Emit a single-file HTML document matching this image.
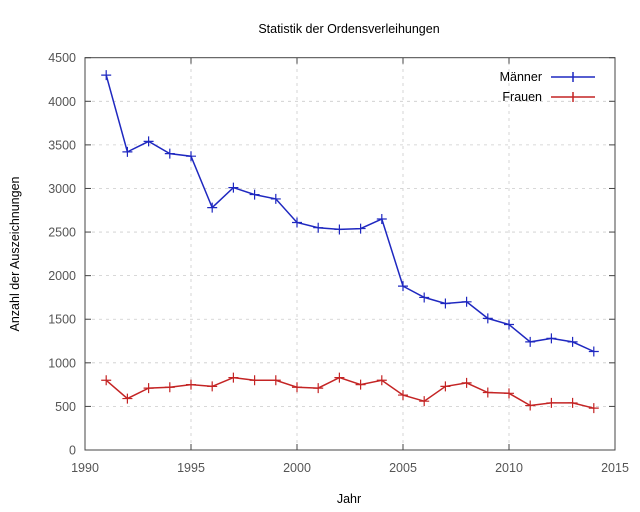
<!DOCTYPE html>
<html><head><meta charset="utf-8"><style>
body{margin:0;background:#fff;}
svg{display:block;font-family:"Liberation Sans",sans-serif;}
</style></head><body>
<svg id="s" width="640" height="512" xmlns="http://www.w3.org/2000/svg"></svg>
<script>
const X0=85,X1=615,Y0=450,Y1=57.7;
const xs=y=>X0+(y-1990)*(X1-X0)/25, ys=v=>Y0-v*(Y0-Y1)/4500;
let h='';
h+='<text x="349" y="33" font-size="12.5" text-anchor="middle" fill="#000">Statistik der Ordensverleihungen</text>';
for(let v=0;v<=4500;v+=500){const y=ys(v);
 if(v>0&&v<4500)h+=`<line x1="${X0}" x2="${X1}" y1="${y}" y2="${y}" stroke="#ccc" stroke-dasharray="3,4" stroke-width="0.8"/>`;
 h+=`<line x1="${X0}" x2="${X0+6}" y1="${y}" y2="${y}" stroke="#444"/><line x1="${X1}" x2="${X1-6}" y1="${y}" y2="${y}" stroke="#444"/>`;
 h+=`<text x="${X0-9}" y="${y+4.5}" font-size="12.5" text-anchor="end" fill="#555">${v}</text>`;}
for(let yr=1990;yr<=2015;yr+=5){const x=xs(yr);
 if(yr>1990&&yr<2015)h+=`<line x1="${x}" x2="${x}" y1="${Y0}" y2="${Y1}" stroke="#ccc" stroke-dasharray="3,4" stroke-width="0.8"/>`;
 h+=`<line x1="${x}" x2="${x}" y1="${Y0}" y2="${Y0-6}" stroke="#444"/><line x1="${x}" x2="${x}" y1="${Y1}" y2="${Y1+6}" stroke="#444"/>`;
 h+=`<text x="${x}" y="${Y0+22}" font-size="12.5" text-anchor="middle" fill="#555">${yr}</text>`;}
h+=`<rect x="${X0}" y="${Y1}" width="${X1-X0}" height="${Y0-Y1}" fill="none" stroke="#444" stroke-width="1"/>`;
h+='<text x="349" y="503" font-size="12.5" text-anchor="middle">Jahr</text>';
h+='<text transform="translate(19,254) rotate(-90)" font-size="12.5" text-anchor="middle">Anzahl der Auszeichnungen</text>';
const M=[4300,3420,3540,3400,3370,2780,3010,2930,2880,2610,2550,2530,2540,2650,1880,1750,1680,1700,1510,1440,1240,1280,1240,1130];
const F=[800,590,710,720,750,730,830,800,800,720,710,830,750,800,630,560,730,770,660,650,510,540,540,480];
function ser(d,c){let p=d.map((v,i)=>`${xs(1991+i).toFixed(1)},${ys(v).toFixed(1)}`).join(' ');
 let s=`<polyline points="${p}" fill="none" stroke="${c}" stroke-width="1.5"/>`;
 d.forEach((v,i)=>{const x=xs(1991+i),y=ys(v);s+=`<path d="M${x-5},${y}h10M${x},${y-5}v10" stroke="${c}" stroke-width="1.2"/>`;});return s;}
h+=ser(M,'#1f28c0')+ser(F,'#c42424');
h+='<text x="542" y="81" font-size="12.5" text-anchor="end">Männer</text><path d="M551,77h44M573,72v10" stroke="#1f28c0" stroke-width="1.5"/>';
h+='<text x="542" y="101" font-size="12.5" text-anchor="end">Frauen</text><path d="M551,97h44M573,92v10" stroke="#c42424" stroke-width="1.5"/>';
document.getElementById('s').innerHTML=h;
</script>
</body></html>
